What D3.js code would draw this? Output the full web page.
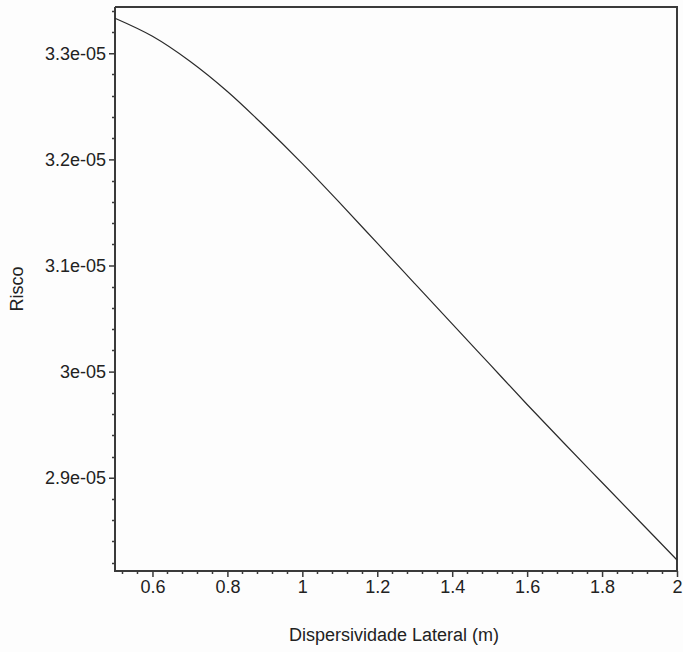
<!DOCTYPE html>
<html>
<head>
<meta charset="utf-8">
<script src="https://cdn.jsdelivr.net/npm/d3@7"></script>
<style>
  html, body { margin: 0; padding: 0; background: #fdfdfd; }
  svg { display: block; }
  text { font-family: "Liberation Sans", Arial, sans-serif; fill: #222; }
</style>
</head>
<body>
<div id="chart"></div>
<script>
// dispersividade lateral (m)
const dispersividade = [0.5, 0.6, 0.7, 0.8, 0.9, 1.0, 1.1, 1.2, 1.3, 1.4, 1.5, 1.6, 1.7, 1.8, 1.9, 2.0];
// risco
const risco = [3.3330e-5, 3.3160e-5, 3.2925e-5, 3.2640e-5, 3.2310e-5, 3.1960e-5, 3.1590e-5, 3.1210e-5,
               3.0830e-5, 3.0450e-5, 3.0070e-5, 2.9690e-5, 2.9320e-5, 2.8955e-5, 2.8590e-5, 2.8225e-5];

const xTicks = [0.6, 0.8, 1.0, 1.2, 1.4, 1.6, 1.8, 2.0];
const xTickLabels = ["0.6", "0.8", "1", "1.2", "1.4", "1.6", "1.8", "2"];
const yTicks = [2.9e-5, 3.0e-5, 3.1e-5, 3.2e-5, 3.3e-5];
const yTickLabels = ["2.9e-05", "3e-05", "3.1e-05", "3.2e-05", "3.3e-05"];

const xDomain = [0.5, 2.0];
const yDomain = [2.8121e-5, 3.3436e-5];

function init() {
  const width = 683, height = 652;
  const left = 115, right = 677, top = 7, bottom = 571;

  const svg = d3.select("#chart")
                .append("svg")
                .attr("width", width)
                .attr("height", height);

  const x = d3.scaleLinear().domain(xDomain).range([left, right]);
  const y = d3.scaleLinear().domain(yDomain).range([bottom, top]);

  const axisColor = "#3a3a3a";

  // frame: top and right edges
  svg.append("line")
     .attr("x1", left).attr("x2", right + 1)
     .attr("y1", top).attr("y2", top)
     .attr("stroke", axisColor).attr("stroke-width", 2);
  svg.append("line")
     .attr("x1", right).attr("x2", right)
     .attr("y1", top).attr("y2", bottom)
     .attr("stroke", axisColor).attr("stroke-width", 2);

  // minor ticks
  const xMinor = d3.range(0.52, 1.99, 0.04).filter(v => Math.abs(Math.round(v * 5) - v * 5) > 1e-6);
  const yMinor = d3.range(2.82e-5, 3.345e-5, 0.02e-5).filter(v => Math.abs(Math.round(v * 1e6) - v * 1e6) > 1e-6);

  svg.selectAll("line.xminor")
     .data(xMinor)
     .enter()
     .append("line")
     .attr("class", "xminor")
     .attr("x1", d => Math.round(x(d)) + 0.5).attr("x2", d => Math.round(x(d)) + 0.5)
     .attr("y1", bottom).attr("y2", bottom + 3)
     .attr("stroke", axisColor).attr("stroke-width", 1.5);

  svg.selectAll("line.yminor")
     .data(yMinor)
     .enter()
     .append("line")
     .attr("class", "yminor")
     .attr("y1", d => Math.round(y(d)) + 0.5).attr("y2", d => Math.round(y(d)) + 0.5)
     .attr("x1", left - 3).attr("x2", left)
     .attr("stroke", axisColor).attr("stroke-width", 1.5);

  // x axis
  const xAxis = d3.axisBottom(x)
                  .tickValues(xTicks)
                  .tickFormat((d, i) => xTickLabels[i])
                  .tickSize(6)
                  .tickPadding(3);
  const gx = svg.append("g")
                .attr("transform", `translate(0,${bottom})`)
                .call(xAxis);
  gx.select(".domain").attr("stroke", axisColor).attr("stroke-width", 2)
    .attr("d", `M${left},0H${right + 1}`);
  gx.selectAll(".tick line").attr("stroke", axisColor).attr("stroke-width", 1.5);
  gx.selectAll(".tick text").style("font-size", "18px").attr("fill", "#222");

  // y axis
  const yAxis = d3.axisLeft(y)
                  .tickValues(yTicks)
                  .tickFormat((d, i) => yTickLabels[i])
                  .tickSize(6)
                  .tickPadding(3);
  const gy = svg.append("g")
                .attr("transform", `translate(${left},0)`)
                .call(yAxis);
  gy.select(".domain").attr("stroke", axisColor).attr("stroke-width", 2)
    .attr("d", `M0,${top}V${bottom + 1}`);
  gy.selectAll(".tick line").attr("stroke", axisColor).attr("stroke-width", 1.5);
  gy.selectAll(".tick text").style("font-size", "18px").attr("fill", "#222");

  // curve
  const points = dispersividade.map((d, i) => ({ x: d, y: risco[i] }));
  const line = d3.line()
                 .x(d => x(d.x))
                 .y(d => y(d.y))
                 .curve(d3.curveCatmullRom);

  svg.append("path")
     .datum(points)
     .attr("fill", "none")
     .attr("stroke", "#2a2a2a")
     .attr("stroke-width", 1.2)
     .attr("d", line);

  // axis titles
  svg.append("text")
     .attr("x", (left + right) / 2 - 2)
     .attr("y", 641)
     .style("text-anchor", "middle")
     .style("font-size", "18px")
     .text("Dispersividade Lateral (m)");

  svg.append("text")
     .attr("transform", `translate(23,${(top + bottom) / 2}) rotate(-90)`)
     .style("text-anchor", "middle")
     .style("font-size", "18px")
     .text("Risco");
}

window.onload = init;
</script>
</body>
</html>
